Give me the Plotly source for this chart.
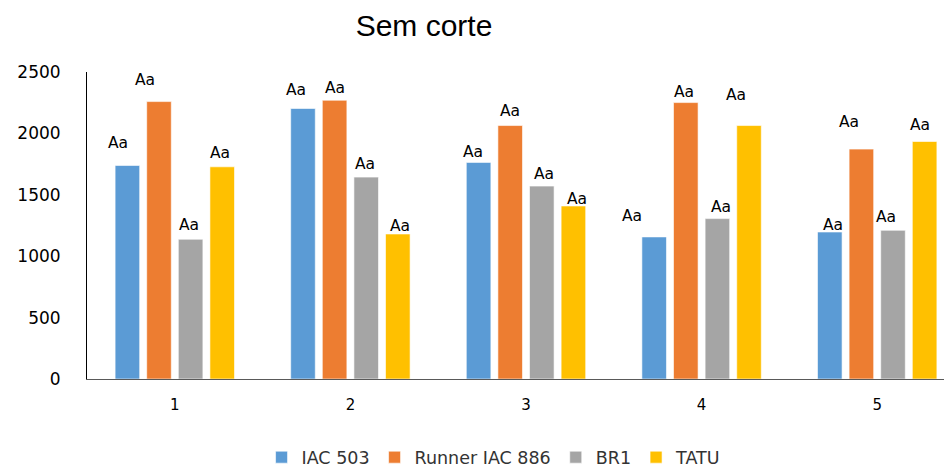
import plotly.graph_objects as go

# ---- data ----
categories = [1, 2, 3, 4, 5]
tick_labels = ["1", "2", "3", "4", "5"]
series_names = ["IAC 503", "Runner IAC 886", "BR1", "TATU"]
iac503 = [1739, 2203, 1764, 1157, 1197]
runner_iac886 = [2259, 2270, 2064, 2251, 1872]
br1 = [1138, 1644, 1571, 1306, 1211]
tatu = [1728, 1181, 1409, 2064, 1934]
# height of the (hidden) spread above each bar where the letter label sits
iac503_err = [179, 148, 86, 173, 57]
runner_iac886_err = [179, 100, 119, 84, 222]
br1_err = [116, 106, 95, 97, 108]
tatu_err = [114, 65, 59, 249, 138]
letters = ["Aa"] * 5

# ---- styling ----
colors = ["#5B9BD5", "#ED7D31", "#A5A5A5", "#FFC000"]
label_nudge = [
    [-9, -7, -6, -22, 3],
    [-14, 0, 0, -2, -12],
    [-2, -1, 2, 4, -7],
    [-2, 2, 4, -13, -5],
]
values = [iac503, runner_iac886, br1, tatu]
errs = [iac503_err, runner_iac886_err, br1_err, tatu_err]

slot = 0.18
width = 0.14

fig = go.Figure()
annotations = []
for i, (name, vals, err, col) in enumerate(zip(series_names, values, errs, colors)):
    off = i * slot - 2 * slot + (slot - width) / 2
    fig.add_trace(go.Bar(
        name=name, x=categories, y=vals, offset=off, width=width,
        marker=dict(color=col, line=dict(color="rgba(255,255,255,0.6)", width=1)),
    ))
    for j, c in enumerate(categories):
        annotations.append(dict(
            x=c + off + width / 2, y=vals[j] + err[j], text=letters[j],
            showarrow=False, xanchor="center", yanchor="middle",
            xshift=label_nudge[i][j],
            font=dict(family="DejaVu Sans", size=15.5, color="#000000"),
        ))

# the page body adds an 8px offset, so the figure is 944x462
fig.update_layout(
    width=944, height=462,
    margin=dict(l=79, r=0, t=64, b=91, autoexpand=False),
    paper_bgcolor="white", plot_bgcolor="white",
    barmode="overlay",
    title=dict(text="Sem corte", x=0.4407, xanchor="center", y=0.962, yanchor="middle",
               font=dict(family="Liberation Sans", size=30, color="#000000")),
    annotations=annotations,
    legend=dict(orientation="h", x=0.47, xanchor="center", y=-0.255, yanchor="middle",
                font=dict(family="DejaVu Sans", size=17.5, color="#333333"),
                itemwidth=30, traceorder="normal"),
    xaxis=dict(range=[0.5, 5.426], tickmode="array", tickvals=categories, ticktext=tick_labels,
               showgrid=False, zeroline=False, showline=True, linecolor="#595959", linewidth=1,
               ticks="", ticklabelstandoff=12, automargin=False,
               tickfont=dict(family="DejaVu Sans", size=15, color="#000000")),
    yaxis=dict(range=[0, 2500], dtick=500, showgrid=False, zeroline=False,
               showline=True, linecolor="#000000", linewidth=1, ticks="",
               ticklabelstandoff=22, automargin=False,
               tickfont=dict(family="DejaVu Sans", size=17, color="#000000")),
)

fig.write_html("out.html")
